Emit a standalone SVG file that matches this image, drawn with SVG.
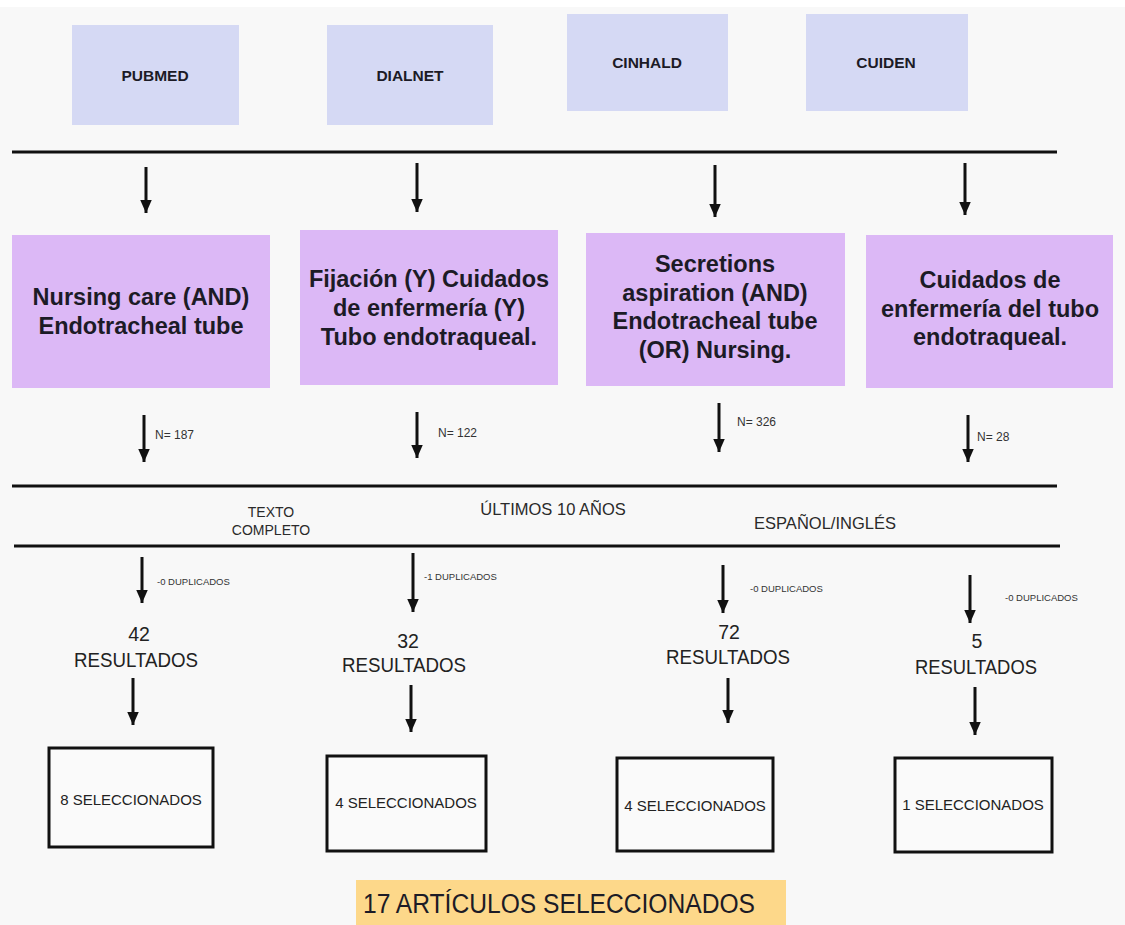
<svg xmlns="http://www.w3.org/2000/svg" width="1125" height="925" viewBox="0 0 1125 925">
<defs>
<marker id="ah" markerUnits="userSpaceOnUse" markerWidth="14" markerHeight="13" refX="13.5" refY="6.5" orient="auto" viewBox="0 0 14 13">
<path d="M0,0.5 L13.5,6.5 L0,12.5 Z" fill="#111"/>
</marker>
<style>
text{font-family:"Liberation Sans",Arial,sans-serif;fill:#1c1b26}
.db{fill:#d5d9f4}
.q{fill:#dcb8f6}
.dbt{font-size:15.5px;font-weight:bold;text-anchor:middle}
.qt{font-size:23.5px;font-weight:bold;text-anchor:middle}
.n{font-size:12px;fill:#333}
.f{text-anchor:middle;fill:#2a2a2a}
.dup{font-size:9.5px;fill:#333}
.res{font-size:19.5px;text-anchor:middle;fill:#222}
.sel{fill:#fafafa;stroke:#111;stroke-width:3}
.selt{font-size:15px;text-anchor:middle;fill:#222}
.hl{stroke:#111;stroke-width:3}
.ar{stroke:#111;stroke-width:3;fill:none;marker-end:url(#ah)}
</style>
</defs>
<rect x="0" y="0" width="1125" height="925" fill="#f8f8f8"/>
<rect x="0" y="0" width="1125" height="7" fill="#ffffff"/>

<g id="db-pubmed"><rect class="db" x="72" y="25" width="167" height="100"/><text class="dbt" x="155" y="80.5">PUBMED</text></g>
<g id="db-dialnet"><rect class="db" x="327" y="25" width="166" height="100"/><text class="dbt" x="410" y="80.5">DIALNET</text></g>
<g id="db-cinhald"><rect class="db" x="567" y="14" width="161" height="97"/><text class="dbt" x="647" y="68">CINHALD</text></g>
<g id="db-cuiden"><rect class="db" x="806" y="14" width="162" height="97"/><text class="dbt" x="886" y="68">CUIDEN</text></g>

<g id="q-pubmed"><rect class="q" x="12" y="235" width="258" height="153"/>
<text class="qt" x="141" y="305">Nursing care (AND)</text>
<text class="qt" x="141" y="334">Endotracheal tube</text></g>
<g id="q-dialnet"><rect class="q" x="300" y="230" width="258" height="155"/>
<text class="qt" x="429" y="287">Fijación (Y) Cuidados</text>
<text class="qt" x="429" y="316">de enfermería (Y)</text>
<text class="qt" x="429" y="345">Tubo endotraqueal.</text></g>
<g id="q-cinhald"><rect class="q" x="586" y="233" width="259" height="153"/>
<text class="qt" x="715" y="272">Secretions</text>
<text class="qt" x="715" y="300.5">aspiration (AND)</text>
<text class="qt" x="715" y="329">Endotracheal tube</text>
<text class="qt" x="715" y="357.5">(OR) Nursing.</text></g>
<g id="q-cuiden"><rect class="q" x="866" y="235" width="247" height="153"/>
<text class="qt" x="990" y="288">Cuidados de</text>
<text class="qt" x="990" y="316.5">enfermería del tubo</text>
<text class="qt" x="990" y="345">endotraqueal.</text></g>

<g id="filters">
<text class="f" x="271" y="517" font-size="14">TEXTO</text>
<text class="f" x="271" y="535" font-size="14">COMPLETO</text>
<text class="f" x="553" y="515" font-size="16.5">ÚLTIMOS 10 AÑOS</text>
<text class="f" x="825" y="529" font-size="16.5">ESPAÑOL/INGLÉS</text>
</g>

<g id="res-pubmed"><text class="res" x="139" y="641">42</text><text class="res" x="136" y="667" textLength="124" lengthAdjust="spacingAndGlyphs">RESULTADOS</text></g>
<g id="res-dialnet"><text class="res" x="408" y="648">32</text><text class="res" x="404" y="672" textLength="124" lengthAdjust="spacingAndGlyphs">RESULTADOS</text></g>
<g id="res-cinhald"><text class="res" x="729" y="639">72</text><text class="res" x="728" y="664" textLength="124" lengthAdjust="spacingAndGlyphs">RESULTADOS</text></g>
<g id="res-cuiden"><text class="res" x="977" y="648">5</text><text class="res" x="976" y="674" textLength="122" lengthAdjust="spacingAndGlyphs">RESULTADOS</text></g>

<g id="sel-pubmed"><rect class="sel" x="49" y="748" width="164" height="99"/><text class="selt" x="131" y="805">8 SELECCIONADOS</text></g>
<g id="sel-dialnet"><rect class="sel" x="327" y="756" width="159" height="95"/><text class="selt" x="406" y="808">4 SELECCIONADOS</text></g>
<g id="sel-cinhald"><rect class="sel" x="617" y="758" width="156" height="93"/><text class="selt" x="695" y="811">4 SELECCIONADOS</text></g>
<g id="sel-cuiden"><rect class="sel" x="895" y="758" width="157" height="94"/><text class="selt" x="973" y="810">1 SELECCIONADOS</text></g>

<g id="total"><rect x="356" y="880" width="430" height="45" fill="#fdd88a"/><text x="363" y="913" font-size="27" fill="#222" textLength="392" lengthAdjust="spacingAndGlyphs">17 ARTÍCULOS SELECCIONADOS</text></g>

<g id="connectors">
<line class="hl" x1="12" y1="152" x2="1057" y2="152"/>
<line class="hl" x1="12" y1="486" x2="1057" y2="486"/>
<line class="hl" x1="14" y1="546" x2="1060" y2="546"/>

<line class="ar" x1="146" y1="167" x2="146" y2="213"/>
<line class="ar" x1="417" y1="163" x2="417" y2="212"/>
<line class="ar" x1="715" y1="165" x2="715" y2="217"/>
<line class="ar" x1="965" y1="163" x2="965" y2="215"/>

<line class="ar" x1="144" y1="415" x2="144" y2="462"/>
<line class="ar" x1="417" y1="412" x2="417" y2="458"/>
<line class="ar" x1="719" y1="403" x2="719" y2="452"/>
<line class="ar" x1="968" y1="415" x2="968" y2="462"/>
<text class="n" x="155" y="439">N= 187</text>
<text class="n" x="438" y="437">N= 122</text>
<text class="n" x="737" y="426">N= 326</text>
<text class="n" x="977" y="441">N= 28</text>

<line class="ar" x1="142" y1="557" x2="142" y2="603"/>
<line class="ar" x1="413" y1="553" x2="413" y2="612"/>
<line class="ar" x1="723" y1="565" x2="723" y2="613"/>
<line class="ar" x1="970" y1="575" x2="970" y2="623"/>
<text class="dup" x="157" y="585">-0 DUPLICADOS</text>
<text class="dup" x="424" y="580">-1 DUPLICADOS</text>
<text class="dup" x="750" y="592">-0 DUPLICADOS</text>
<text class="dup" x="1005" y="601">-0 DUPLICADOS</text>

<line class="ar" x1="133" y1="678" x2="133" y2="725"/>
<line class="ar" x1="411" y1="685" x2="411" y2="732"/>
<line class="ar" x1="728" y1="678" x2="728" y2="723"/>
<line class="ar" x1="975" y1="687" x2="975" y2="735"/>
</g>
</svg>
